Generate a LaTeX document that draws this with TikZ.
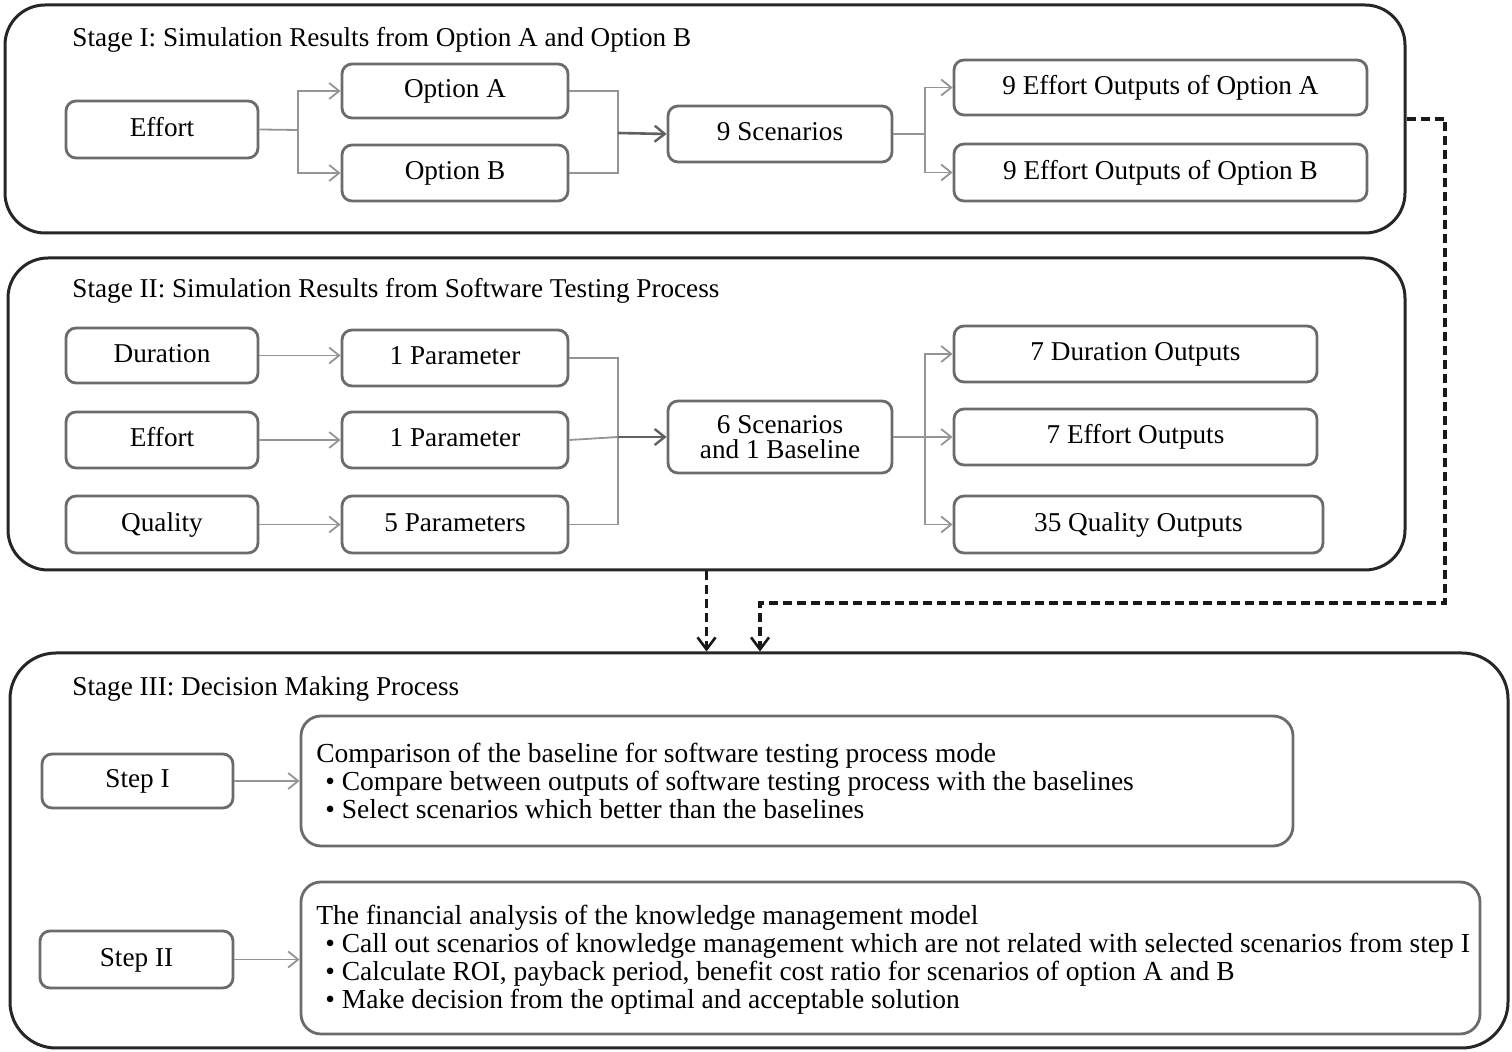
\documentclass[tikz,border=0pt]{standalone}
\usepackage{fontspec}
\setmainfont{Liberation Serif}
\usetikzlibrary{arrows.meta,fit}
\begin{document}
\begin{tikzpicture}[x=0.5pt,y=-0.5pt,
  font=\fontsize{13.6}{14}\selectfont,
  stagebox/.style={draw=black!85, line width=1.5pt, rounded corners=20pt, inner sep=0pt},
  ibox/.style={draw=black!58, line width=1.4pt, rounded corners=5pt, inner sep=0pt, fill=white, align=center},
  oneline/.style={text height=9.6pt, text depth=2.6pt},
  bx/.style n args={2}{minimum width=#1pt, minimum height=#2pt},
  conn/.style={draw=black!42, line width=0.9pt, -{Straight Barb[length=5pt,width=8pt,line width=0.9pt]}},
  connline/.style={draw=black!42, line width=0.9pt},
  conndark/.style={draw=black!62, line width=1.3pt, -{Straight Barb[length=5pt,width=8pt,line width=1.2pt]}},
  dashconn/.style={draw=black!90, line width=1.7pt, dash pattern=on 4.5pt off 2.5pt, -{Straight Barb[length=6pt,width=9pt,line width=1.3pt]}},
  ttl/.style={anchor=base west, inner sep=0pt},
  txt/.style={anchor=base west, inner sep=0pt, font=\fontsize{13.75}{14}\selectfont}]
\useasboundingbox (0,0) rectangle (1512,1052);

% stage frames
\node[stagebox, fit={(5,5) (1405,233)}] (s1) {};
\node[stagebox, fit={(8,258) (1405,570)}] (s2) {};
\node[stagebox, rounded corners=23pt, fit={(10,653) (1508,1048)}] (s3) {};

\node[ttl] (t1) at (72,47) {Stage I: Simulation Results from Option A and Option B};
\node[ttl] (t2) at (72,298) {Stage II: Simulation Results from Software Testing Process};
\node[ttl] (t3) at (72,696) {Stage III: Decision Making Process};

% Stage I
\node[ibox, oneline, bx={96}{28.5}] (eff1) at (162,129.5) {Effort};
\node[ibox, oneline, bx={113}{27}] (optA) at (455,91) {Option A};
\node[ibox, oneline, bx={113}{28}] (optB) at (455,173) {Option B};
\node[ibox, oneline, bx={112}{28}] (sc9) at (780,134) {9 Scenarios};
\node[ibox, oneline, bx={206.5}{27.5}] (outA) at (1160.5,87.5) {9 Effort Outputs of Option A};
\node[ibox, oneline, bx={206.5}{28.5}] (outB) at (1160.5,172.5) {9 Effort Outputs of Option B};

\coordinate (j1) at (298,130);
\coordinate (j2) at (618,133);
\coordinate (j3) at (925,134);
\draw[connline] (eff1.east) -- (j1);
\draw[conn] (j1) |- (optA.west);
\draw[conn] (j1) |- (optB.west);
\draw[connline] (optA.east) -| (j2) |- (optB.east);
\draw[conndark] (j2) -- (sc9.west);
\draw[connline] (sc9.east) -- (j3);
\draw[conn] (j3) |- (outA.west);
\draw[conn] (j3) |- (outB.west);

% Stage II
\node[ibox, oneline, bx={96}{27.5}] (dur) at (162,355.5) {Duration};
\node[ibox, oneline, bx={96}{28}] (eff2) at (162,440) {Effort};
\node[ibox, oneline, bx={96}{28.5}] (qual) at (162,524.5) {Quality};
\node[ibox, oneline, bx={113}{28}] (p1) at (455,358) {1 Parameter};
\node[ibox, oneline, bx={113}{28}] (p2) at (455,440) {1 Parameter};
\node[ibox, oneline, bx={113}{28.5}] (p5) at (455,524.5) {5 Parameters};
\node[ibox, bx={112}{36}] (sc6) at (780,437) {6 Scenarios\\[-1.5pt]and 1 Baseline};
\node[ibox, oneline, bx={181.5}{28}] (odur) at (1135.5,354) {7 Duration Outputs};
\node[ibox, oneline, bx={181.5}{28}] (oeff) at (1135.5,437) {7 Effort Outputs};
\node[ibox, oneline, bx={184.5}{28.5}] (oqual) at (1138.5,524.5) {35 Quality Outputs};

\draw[conn] (dur.east) -- (dur.east -| p1.west);
\draw[conn] (eff2.east) -- (p2.west);
\draw[conn] (qual.east) -- (p5.west);
\coordinate (k1) at (618,437);
\coordinate (k2) at (925,437);
\draw[connline] (p1.east) -| (k1) |- (p5.east);
\draw[connline] (p2.east) -- (k1);
\draw[conndark] (k1) -- (sc6.west);
\draw[connline] (sc6.east) -- (k2);
\draw[conn] (k2) |- (odur.west);
\draw[conn] (k2) -- (oeff.west);
\draw[conn] (k2) |- (oqual.west);

% dashed connectors
\coordinate (d1) at (1445,603);
\coordinate (d2) at (760,603);
\draw[dashconn] (s1.east) -| (d1) -- (d2) -- (d2 |- s3.north);
\draw[dashconn] (s2.south) -- (s2.south |- s3.north);

% Stage III
\node[ibox, oneline, bx={95.5}{27}] (st1) at (137.5,781) {Step I};
\node[ibox, oneline, bx={96.5}{28.5}] (st2) at (136.5,959.5) {Step II};
\node[ibox, rounded corners=10pt, fit={(301,716) (1293,846)}] (b1) {};
\node[ibox, rounded corners=10pt, fit={(301,882) (1480,1034)}] (b2) {};
\draw[conn] (st1.east) -- (st1.east -| b1.west);
\draw[conn] (st2.east) -- (st2.east -| b2.west);

\node[txt] (l11) at (316,763) {Comparison of the baseline for software testing process mode};
\node[txt] (l12) at (325,791) {\textbullet\ Compare between outputs of software testing process with the baselines};
\node[txt] (l13) at (325,819) {\textbullet\ Select scenarios which better than the baselines};

\node[txt] (l21) at (316,925) {The financial analysis of the knowledge management model};
\node[txt] (l22) at (325,953) {\textbullet\ Call out scenarios of knowledge management which are not related with selected scenarios from step I};
\node[txt] (l23) at (325,981) {\textbullet\ Calculate ROI, payback period, benefit cost ratio for scenarios of option A and B};
\node[txt] (l24) at (325,1009) {\textbullet\ Make decision from the optimal and acceptable solution};
\end{tikzpicture}
\end{document}
